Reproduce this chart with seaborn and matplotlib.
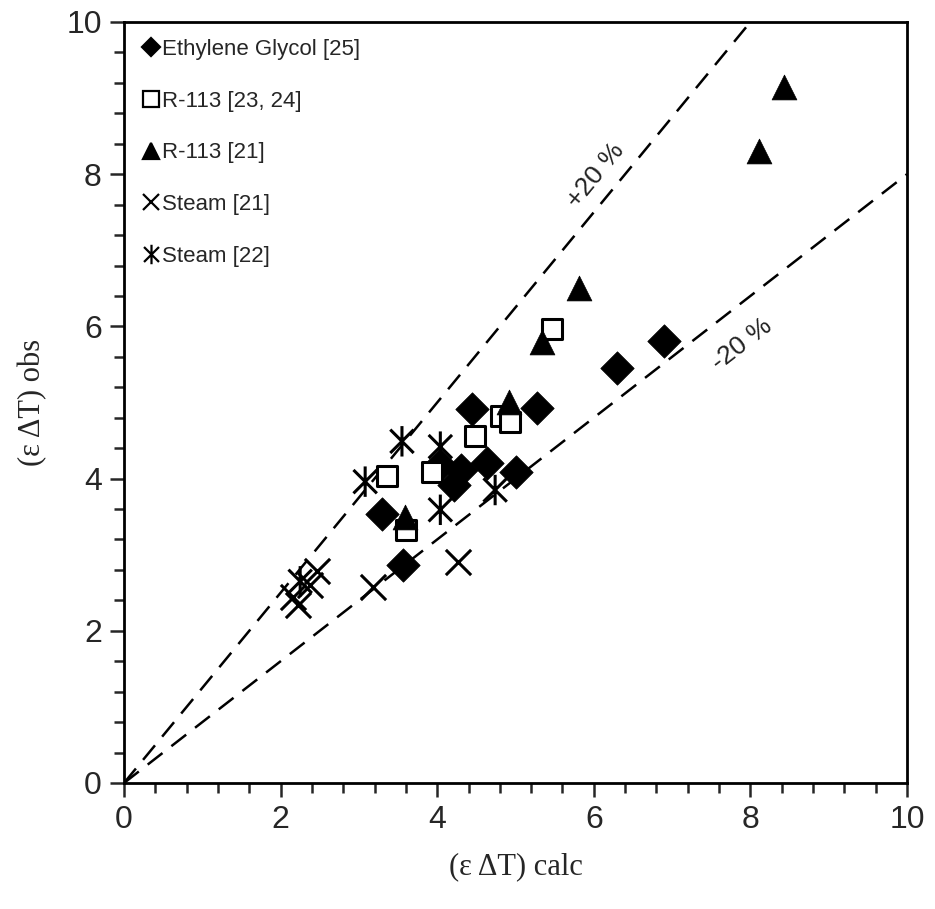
import numpy as np
import pandas as pd
import matplotlib
matplotlib.use("Agg")
import matplotlib.pyplot as plt
from matplotlib.path import Path
from matplotlib.lines import Line2D
import seaborn as sns

# ---- data ----
eg_x = [4.45, 5.28, 3.29, 4.03, 4.31, 4.63, 4.22, 5.01, 3.56, 6.30, 6.90]
eg_y = [4.91, 4.93, 3.53, 4.18, 4.11, 4.20, 3.92, 4.09, 2.86, 5.45, 5.81]

r113a_x = [3.36, 3.93, 4.48, 4.81, 4.93, 3.60, 5.46]
r113a_y = [4.04, 4.09, 4.56, 4.82, 4.75, 3.32, 5.97]

r113b_x = [3.59, 4.92, 5.34, 5.81, 8.11, 8.43]
r113b_y = [3.50, 5.01, 5.80, 6.50, 8.30, 9.14]

st21_x = [4.27, 3.18, 2.16, 2.22, 2.46, 2.37]
st21_y = [2.91, 2.57, 2.45, 2.34, 2.78, 2.60]

st22_x = [3.55, 4.04, 3.08, 4.04, 4.74, 2.25]
st22_y = [4.49, 4.42, 3.96, 3.59, 3.85, 2.65]

labels = ["Ethylene Glycol [25]", "R-113 [23, 24]", "R-113 [21]",
          "Steam [21]", "Steam [22]"]
ticks = [0, 2, 4, 6, 8, 10]
band_factors = [1.25, 0.8]
band_labels = ["+20 %", "-20 %"]

sns.set_style("white")
plt.rcParams["font.family"] = ["Liberation Sans", "DejaVu Sans"]

fig = plt.figure(figsize=(9.35, 9.09), dpi=100)
ax = fig.add_axes([124/935, 1 - 783/909, (907-124)/935, (783-22)/909])

# asterisk marker: X plus vertical line
ast = Path([(-1, -1), (1, 1), (-1, 1), (1, -1), (0, -1.3), (0, 1.3)],
           [Path.MOVETO, Path.LINETO, Path.MOVETO, Path.LINETO, Path.MOVETO, Path.LINETO])

series = [
    (eg_x, eg_y, "D", dict(color="black", edgecolor="black", s=290, linewidth=0.5)),
    (r113a_x, r113a_y, "s", dict(color="white", edgecolor="black", s=210, linewidth=2.2)),
    (r113b_x, r113b_y, "^", dict(color="black", edgecolor="black", s=320, linewidth=0.5)),
    (st21_x, st21_y, "x", dict(color="black", s=330, linewidth=2.2)),
    (st22_x, st22_y, ast, dict(facecolor="none", edgecolor="black", s=480, linewidth=2.2)),
]

# reference lines
xx = np.array([0, 10.0])
for f in band_factors:
    sns.lineplot(x=xx, y=f * xx, ax=ax, color="black", linewidth=1.8,
                 dashes=False, zorder=1)
for ln in ax.get_lines():
    ln.set_dashes([7.5, 4.5])

handles = []
for (x, y, m, kw), lab in zip(series, labels):
    df = pd.DataFrame({"x": x, "y": y})
    sns.scatterplot(data=df, x="x", y="y", marker=m, ax=ax, zorder=3, **kw)
    if m == "x":
        h = Line2D([], [], linestyle="none", marker=m, color="black",
                   markersize=11, markeredgewidth=1.6)
    elif m is ast:
        h = Line2D([], [], linestyle="none", marker=m, color="black",
                   markersize=14, markeredgewidth=1.6)
    else:
        fc = kw.get("color")
        h = Line2D([], [], linestyle="none", marker=m, markerfacecolor=fc,
                   markeredgecolor="black", markersize=11 if m != "D" else 9,
                   markeredgewidth=1.6)
    handles.append(h)

leg = ax.legend(handles, labels, loc="upper left", frameon=False,
                fontsize=16, handletextpad=0.0, handlelength=1.0,
                labelspacing=1.38, borderaxespad=0.3,
                bbox_to_anchor=(0.0, 0.998))

ax.text(6.03, 7.99, band_labels[0], rotation=50.5, fontsize=19,
        ha="center", va="center", color="#222222")
ax.text(7.89, 5.76, band_labels[1], rotation=37.8, fontsize=19,
        ha="center", va="center", color="#222222")

ax.set_xlim(0, 10)
ax.set_ylim(0, 10)
ax.set_xticks(ticks)
ax.set_yticks(ticks)
ax.set_xticks(np.arange(0, 10.01, 0.4), minor=True)
ax.set_yticks(np.arange(0, 10.01, 0.4), minor=True)
ax.tick_params(axis="both", which="major", direction="out", length=10, width=1.8,
               labelsize=23, pad=6, bottom=True, left=True)
ax.tick_params(axis="both", which="minor", direction="out", length=7, width=1.8,
               bottom=True, left=True)
for sp in ax.spines.values():
    sp.set_linewidth(2.0)
    sp.set_color("black")

ax.set_xlabel("(ε ΔT) calc", fontsize=22, family=["Liberation Serif", "DejaVu Serif"],
              labelpad=12)
ax.set_ylabel("(ε ΔT) obs", fontsize=22, family=["Liberation Serif", "DejaVu Serif"],
              labelpad=14)

fig.savefig("out.png", dpi=100)
